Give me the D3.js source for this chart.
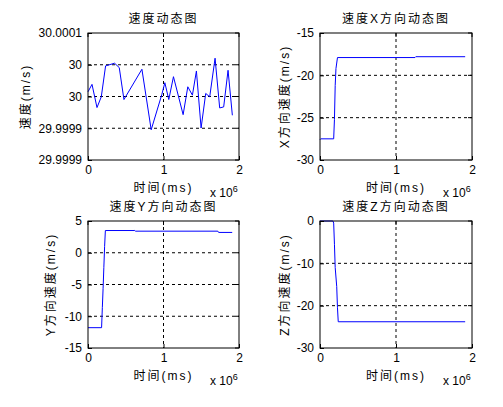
<!DOCTYPE html><html><head><meta charset="utf-8"><script src="https://d3js.org/d3.v7.min.js"></script>
<style>body{margin:0;background:#fff}text{font-family:"Liberation Sans","Noto Sans CJK SC",sans-serif;font-size:12px;fill:#000}.cj{letter-spacing:2px}</style></head><body><svg id="c" width="503" height="407"></svg>
<script>
const xTicks=[0,1,2];
const speedTime=[0,0.053,0.119,0.176,0.233,0.352,0.414,0.476,0.714,0.837,0.978,1.018,1.070,1.132,1.260,1.322,1.383,1.436,1.498,1.559,1.612,1.683,1.744,1.797,1.855,1.912];
const speedOffset=[0.74,1.91,-1.74,-0.05,4.82,5.24,4.55,-0.48,4.29,-5.24,0.32,2.17,-0.48,3.12,-2.86,1.53,0.21,4.02,-4.97,0.48,-0.05,6.03,-1.80,-1.64,4.13,-2.96];
const speedTickLabels=["30.0001","30","30","29.9999","29.9999"];
const vxTime=[0,0.01,0.18,0.19,0.2,0.21,0.23,1.25,1.26,1.91];
const vxVal=[-27.6,-27.5,-27.5,-25.2,-21.2,-19.2,-17.9,-17.9,-17.8,-17.8];
const vyTime=[0,0.18,0.19,0.2,0.21,0.22,0.23,0.62,0.63,1.72,1.73,1.91];
const vyVal=[-11.8,-11.8,-8.6,-5.6,-2.3,1,3.5,3.5,3.4,3.4,3.2,3.2];
const vzTime=[0,0.17,0.18,0.19,0.2,0.22,0.23,0.24,1.91];
const vzVal=[0,0,-0.5,-5.5,-11,-15.5,-20.5,-23.8,-23.8];
const svg=d3.select("#c");
function panel(o){
 const g=svg.append("g");
 const x=d3.scaleLinear().domain([0,2]).range([o.x0,o.x1]);
 const y=d3.scaleLinear().domain(o.dom).range([o.y1,o.y0]);
 o.grid.forEach(v=>g.append("line").attr("x1",o.x0).attr("x2",o.x1).attr("y1",y(v)).attr("y2",y(v)).attr("stroke","#000").attr("stroke-dasharray","3,3"));
 g.append("line").attr("x1",x(1)).attr("x2",x(1)).attr("y1",o.y0).attr("y2",o.y1).attr("stroke","#000").attr("stroke-dasharray","3,3");
 const line=d3.line().x(d=>x(d[0])).y(d=>y(d[1]));
 g.append("path").datum(o.t.map((t,i)=>[t,o.v[i]])).attr("d",line).attr("fill","none").attr("stroke","#0000ff").attr("stroke-width",1);
 g.append("rect").attr("x",o.x0).attr("y",o.y0).attr("width",o.x1-o.x0).attr("height",o.y1-o.y0).attr("fill","none").attr("stroke","#000");
 const ax=g.append("g").attr("transform",`translate(0,${o.y1})`).call(d3.axisBottom(x).tickValues(xTicks).tickFormat(d3.format("d")).tickSizeInner(-4).tickSizeOuter(0));
 const ay=g.append("g").attr("transform",`translate(${o.x0},0)`).call(d3.axisLeft(y).tickValues(o.ticks).tickFormat((d,i)=>o.labels?o.labels[o.labels.length-1-i]:d).tickSizeInner(-4).tickSizeOuter(0));
 [ax,ay].forEach(a=>{a.select(".domain").remove();a.selectAll("line").attr("stroke","#000");a.selectAll("text").style("font-size","12px").style("font-family","Liberation Sans");});
 ax.selectAll("text").attr("dy","0.9em");
 ay.selectAll("text").attr("x",-6);
 xTicks.forEach(v=>g.append("line").attr("x1",x(v)).attr("x2",x(v)).attr("y1",o.y0).attr("y2",o.y0+4).attr("stroke","#000"));
 o.ticks.forEach(v=>g.append("line").attr("x1",o.x1).attr("x2",o.x1-4).attr("y1",y(v)).attr("y2",y(v)).attr("stroke","#000"));
 const cx=(o.x0+o.x1)/2;
 g.append("text").attr("class","cj").attr("x",cx).attr("y",o.y0-10).attr("text-anchor","middle").text(o.title);
 g.append("text").attr("class","cj").attr("x",cx).attr("y",o.y1+32).attr("text-anchor","middle").text("时间(ms)");
 const e=g.append("text").attr("x",o.x1-29).attr("y",o.y1+37);
 e.append("tspan").text("x 10");e.append("tspan").attr("dy",-5).style("font-size","9px").text("6");
 g.append("text").attr("class","cj").attr("transform",`translate(${o.yl},${(o.y0+o.y1)/2}) rotate(-90)`).attr("text-anchor","middle").text(o.ylabel);
}
panel({x0:88,x1:239,y0:33,y1:160,dom:[-10,10],ticks:[-10,-5,0,5,10],grid:[-5,0,5],labels:speedTickLabels,t:speedTime,v:speedOffset,title:"速度动态图",ylabel:"速度(m/s)",yl:30});
panel({x0:320,x1:472,y0:33,y1:160,dom:[-30,-15],ticks:[-30,-25,-20,-15],grid:[-25,-20],t:vxTime,v:vxVal,title:"速度X方向动态图",ylabel:"X方向速度(m/s)",yl:289});
panel({x0:88,x1:239,y0:221,y1:348,dom:[-15,5],ticks:[-15,-10,-5,0,5],grid:[-10,-5,0],t:vyTime,v:vyVal,title:"速度Y方向动态图",ylabel:"Y方向速度(m/s)",yl:55});
panel({x0:320,x1:472,y0:221,y1:348,dom:[-30,0],ticks:[-30,-20,-10,0],grid:[-20,-10],t:vzTime,v:vzVal,title:"速度Z方向动态图",ylabel:"Z方向速度(m/s)",yl:289});
</script></body></html>
